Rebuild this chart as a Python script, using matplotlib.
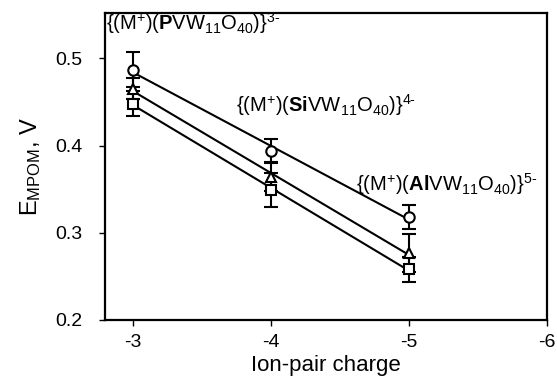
import matplotlib
matplotlib.use('Agg')
import matplotlib.pyplot as plt
import numpy as np

plt.rcParams['font.family'] = 'Liberation Sans'
plt.rcParams['mathtext.fontset'] = 'custom'
plt.rcParams['mathtext.rm'] = 'Liberation Sans'
plt.rcParams['mathtext.bf'] = 'Liberation Sans:bold'
plt.rcParams['mathtext.it'] = 'Liberation Sans:italic'

charge = [-3, -4, -5]
e_circle = [0.487, 0.394, 0.318]
err_circle = [0.020, 0.013, 0.014]
e_triangle = [0.465, 0.364, 0.277]
err_triangle = [0.012, 0.016, 0.022]
e_square = [0.448, 0.349, 0.258]
err_square = [0.014, 0.019, 0.014]

labels = [r'$\{(\mathrm{M}^{+})(\mathbf{P}\mathrm{VW}_{11}\mathrm{O}_{40})\}^{3\text{-}}$',
          r'$\{(\mathrm{M}^{+})(\mathbf{Si}\mathrm{VW}_{11}\mathrm{O}_{40})\}^{4\text{-}}$',
          r'$\{(\mathrm{M}^{+})(\mathbf{Al}\mathrm{VW}_{11}\mathrm{O}_{40})\}^{5\text{-}}$']
label_x = [-2.81, -3.75, -4.62]
label_y = [0.540, 0.446, 0.356]

fig = plt.figure(figsize=(5.57, 3.79), dpi=100)
ax = fig.add_axes([0.1885, 0.1557, 0.7935, 0.81])

x = np.array(charge)
for y, err, m in [(e_circle, err_circle, 'o'), (e_triangle, err_triangle, '^'),
                  (e_square, err_square, 's')]:
    k, b = np.polyfit(x, y, 1)
    ax.plot(x, k * x + b, color='black', lw=1.5, zorder=2)
    ax.errorbar(x, y, yerr=err, fmt=m, mfc='white', mec='black', mew=1.5, ms=7.5,
                ecolor='black', elinewidth=1.5, capsize=5, capthick=1.5, zorder=3)

for s, lx, ly in zip(labels, label_x, label_y):
    ax.text(lx, ly, s, fontsize=14.5, ha='left', va='center')

ax.set_xlim(-2.8, -6)
ax.set_ylim(0.2, 0.552)
ax.set_xticks([-3, -4, -5, -6])
ax.set_xticklabels(['-3', '-4', '-5', '-6'])
ax.set_yticks([0.2, 0.3, 0.4, 0.5])
ax.tick_params(direction='out', length=4, width=1, labelsize=14)
ax.tick_params(axis='y', pad=12)
ax.tick_params(axis='x', pad=6)
for sp in ax.spines.values():
    sp.set_linewidth(1.6)
ax.set_xlabel('Ion-pair charge', fontsize=16, labelpad=3)
ax.set_ylabel(r'E$_{\mathrm{MPOM}}$, V', fontsize=17, labelpad=9)

fig.savefig('out.png', dpi=100)
